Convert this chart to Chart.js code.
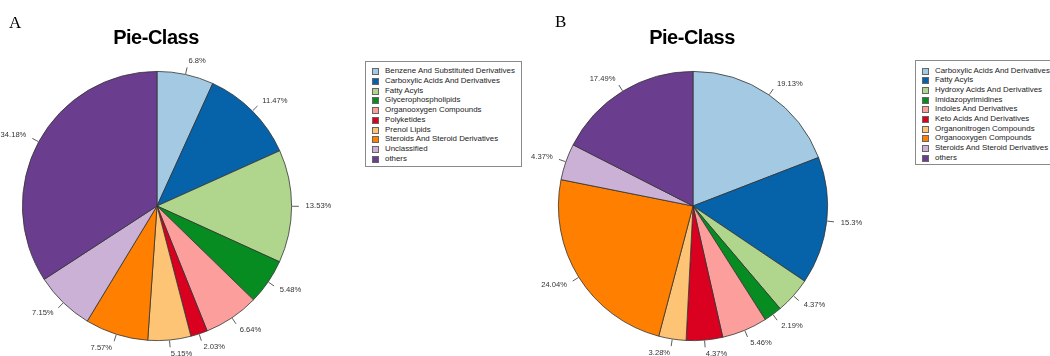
<!DOCTYPE html>
<html>
<head>
<meta charset="utf-8">
<script src="https://cdn.jsdelivr.net/npm/chart.js@4.4.1/dist/chart.umd.min.js"></script>
<style>
  html, body { margin:0; padding:0; background:#fff; width:1050px; height:356px; overflow:hidden; }
  #wrap { position:relative; width:1050px; height:356px; }
  canvas { position:absolute; top:0; }
  .title { position:absolute; width:200px; text-align:center; font:bold 20px "Liberation Sans", Arial, sans-serif; letter-spacing:-0.5px; line-height:20px; color:#000; }
  .panel { position:absolute; font:17px "Liberation Serif", "Times New Roman", serif; line-height:17px; color:#000; }
  .legend { position:absolute; border:1px solid #8a8a8a; background:#fff; box-sizing:border-box; }
  .row { position:absolute; left:0; white-space:nowrap; font:7.9px "Liberation Sans", Arial, sans-serif; color:#222; line-height:10px; height:10px; }
  .sq { position:absolute; width:5px; height:5px; border:0.8px solid #666; top:2px; }
  .tx { position:absolute; top:0; }
</style>
</head>
<body>
<div id="wrap">
  <canvas id="cA" width="540" height="356" style="left:0;width:540px;height:356px"></canvas>
  <canvas id="cB" width="550" height="356" style="left:500px;width:550px;height:356px"></canvas>
  <div class="panel" style="left:9px;top:14px">A</div>
  <div class="panel" style="left:555px;top:13px">B</div>
  <div class="title" style="left:56px;top:27px">Pie-Class</div>
  <div class="title" style="left:592px;top:27px">Pie-Class</div>
  <div id="legA" class="legend" style="left:365px;top:61px;width:157px;height:106px"></div>
  <div id="legB" class="legend" style="left:915px;top:60px;width:160px;height:105px"></div>
</div>
<script>
// ---- Data ----
const categoriesA = [
  "Benzene And Substituted Derivatives",
  "Carboxylic Acids And Derivatives",
  "Fatty Acyls",
  "Glycerophospholipids",
  "Organooxygen Compounds",
  "Polyketides",
  "Prenol Lipids",
  "Steroids And Steroid Derivatives",
  "Unclassified",
  "others"
];
const valuesA = [6.8, 11.47, 13.53, 5.48, 6.64, 2.03, 5.15, 7.57, 7.15, 34.18];
const labelsA = ["6.8%", "11.47%", "13.53%", "5.48%", "6.64%", "2.03%", "5.15%", "7.57%", "7.15%", "34.18%"];

const categoriesB = [
  "Carboxylic Acids And Derivatives",
  "Fatty Acyls",
  "Hydroxy Acids And Derivatives",
  "Imidazopyrimidines",
  "Indoles And Derivatives",
  "Keto Acids And Derivatives",
  "Organonitrogen Compounds",
  "Organooxygen Compounds",
  "Steroids And Steroid Derivatives",
  "others"
];
const valuesB = [19.13, 15.3, 4.37, 2.19, 5.46, 4.37, 3.28, 24.04, 4.37, 17.49];
const labelsB = ["19.13%", "15.3%", "4.37%", "2.19%", "5.46%", "4.37%", "3.28%", "24.04%", "4.37%", "17.49%"];

const palette = ["#A4C9E2", "#0663AA", "#B0D68E", "#078C22", "#FC9E9B", "#DA0020", "#FEC476", "#FF7F00", "#CBB1D5", "#6A3D8F"];

// ---- Outside labels plugin (R pie style) ----
const outsideLabels = {
  id: 'outsideLabels',
  afterDatasetsDraw(chart, args, opts) {
    const ctx = chart.ctx;
    const meta = chart.getDatasetMeta(0);
    const texts = opts.texts;
    ctx.save();
    ctx.font = '7.6px "Liberation Sans", Arial, sans-serif';
    ctx.fillStyle = '#333';
    ctx.strokeStyle = '#333';
    ctx.lineWidth = 0.8;
    ctx.textBaseline = 'middle';
    meta.data.forEach((arc, i) => {
      const p = arc.getProps(['x', 'y', 'startAngle', 'endAngle', 'outerRadius'], true);
      const a = (p.startAngle + p.endAngle) / 2;
      const r = p.outerRadius + 0.5;
      const c = Math.cos(a), s = Math.sin(a);
      ctx.beginPath();
      ctx.moveTo(p.x + c * r, p.y + s * r);
      ctx.lineTo(p.x + c * r * 1.05, p.y + s * r * 1.05);
      ctx.stroke();
      ctx.textAlign = c < 0 ? 'right' : 'left';
      ctx.fillText(texts[i], p.x + c * r * 1.1, p.y + s * r * 1.1);
    });
    ctx.restore();
  }
};

function makePie(id, cats, vals, texts, pad) {
  return new Chart(document.getElementById(id), {
    type: 'pie',
    data: {
      labels: cats,
      datasets: [{
        data: vals,
        backgroundColor: palette,
        borderColor: '#333',
        borderWidth: 0.8
      }]
    },
    options: {
      responsive: false,
      animation: false,
      rotation: 0,
      layout: { padding: pad },
      plugins: {
        legend: { display: false },
        tooltip: { enabled: false },
        title: { display: false },
        outsideLabels: { texts: texts }
      }
    },
    plugins: [outsideLabels]
  });
}

makePie('cA', categoriesA, valuesA, labelsA, { left: 22, right: 248, top: 71, bottom: 15 });
makePie('cB', categoriesB, valuesB, labelsB, { left: 58, right: 222, top: 71, bottom: 15 });

// ---- Legends ----
function buildLegend(id, cats, firstY, step) {
  const box = document.getElementById(id);
  cats.forEach((c, i) => {
    const row = document.createElement('div');
    row.className = 'row';
    row.style.top = (firstY + i * step - 5) + 'px';
    row.style.width = '100%';
    const sq = document.createElement('div');
    sq.className = 'sq';
    sq.style.left = '6px';
    sq.style.background = palette[i];
    const tx = document.createElement('div');
    tx.className = 'tx';
    tx.style.left = '19px';
    tx.textContent = c;
    row.appendChild(sq);
    row.appendChild(tx);
    box.appendChild(row);
  });
}
buildLegend('legA', categoriesA, 9.2, 9.73);
buildLegend('legB', categoriesB, 9.5, 9.7);
</script>
</body>
</html>
